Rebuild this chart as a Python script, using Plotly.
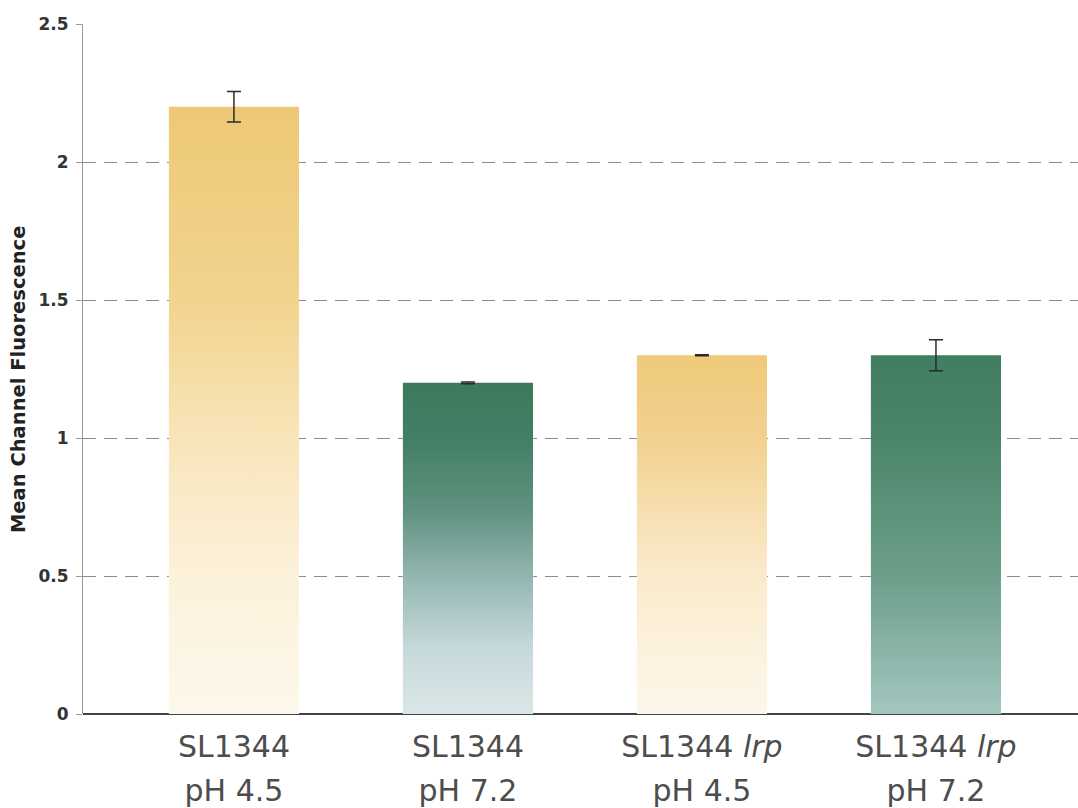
import plotly.graph_objects as go

# Mean channel fluorescence per strain / pH condition
strain_labels = ["SL1344", "SL1344", "SL1344 <i>lrp</i>", "SL1344 <i>lrp</i>"]
ph_labels = ["pH 4.5", "pH 7.2", "pH 4.5", "pH 7.2"]
mean_fluorescence = [2.2, 1.2, 1.3, 1.3]
error_values = [0.055, 0.003, 0.002, 0.056]
y_ticks = [0, 0.5, 1, 1.5, 2, 2.5]
y_tick_labels = ["0", "0.5", "1", "1.5", "2", "2.5"]

# vertical gradient per bar (bottom -> top)
gold_tall = [[0, "#fdf8ec"], [0.23, "#fcf1da"], [0.45, "#f8e5ba"], [0.68, "#f2d48e"], [1, "#eec876"]]
green_fade = [[0, "#dae6e8"], [0.2, "#c6d9da"], [0.42, "#92b5b0"], [0.62, "#5f917f"], [0.83, "#437f64"], [1, "#3d795d"]]
gold_short = [[0, "#fdf7ea"], [0.38, "#fbebcd"], [0.77, "#f2d190"], [1, "#efca78"]]
green_deep = [[0, "#a4c6c0"], [0.38, "#6d9f8b"], [0.77, "#4a8569"], [1, "#407d61"]]
bar_gradients = [gold_tall, green_fade, gold_short, green_deep]

bar_width = 0.556
positions = list(range(len(mean_fluorescence)))

fig = go.Figure()

# bar values (transparent carrier for hover)
fig.add_trace(go.Bar(
    x=positions,
    y=mean_fluorescence,
    width=bar_width,
    marker=dict(color="rgba(0,0,0,0)", line=dict(width=0)),
    showlegend=False,
))

# gradient-filled bar bodies
for pos, val, scale in zip(positions, mean_fluorescence, bar_gradients):
    x0, x1 = pos - bar_width / 2, pos + bar_width / 2
    fig.add_trace(go.Scatter(
        x=[x0, x1, x1, x0, x0],
        y=[0, 0, val, val, 0],
        mode="lines",
        line=dict(width=0),
        fill="toself",
        fillgradient=dict(type="vertical", colorscale=scale),
        hoverinfo="skip",
        showlegend=False,
    ))

# error bars on top of the bar bodies
fig.add_trace(go.Scatter(
    x=positions,
    y=mean_fluorescence,
    mode="markers",
    marker=dict(size=1, color="rgba(0,0,0,0)"),
    error_y=dict(type="data", array=error_values, visible=True,
                 color="#2b2b2b", thickness=1.5, width=7),
    hoverinfo="skip",
    showlegend=False,
))

# second-row labels on an overlaid axis
fig.add_trace(go.Scatter(x=positions, y=mean_fluorescence, xaxis="x2",
                         mode="markers", marker=dict(size=1, color="rgba(0,0,0,0)"),
                         hoverinfo="skip", showlegend=False))

x_range = [-0.645, 3.607]
label_font = dict(family="DejaVu Sans", size=30, color="#4d4d4d")

fig.update_layout(
    width=1078,
    height=808,
    margin=dict(l=83, r=0, t=24, b=94, autoexpand=False),
    paper_bgcolor="white",
    plot_bgcolor="white",
    xaxis=dict(
        range=x_range,
        automargin=False,
        tickmode="array",
        tickvals=positions,
        ticktext=strain_labels,
        ticks="outside",
        ticklen=6,
        tickcolor="rgba(0,0,0,0)",
        tickfont=label_font,
        showgrid=False,
        zeroline=False,
        showline=False,
    ),
    xaxis2=dict(
        range=x_range,
        automargin=False,
        overlaying="x",
        side="bottom",
        anchor="y",
        tickmode="array",
        tickvals=positions,
        ticktext=ph_labels,
        ticks="outside",
        ticklen=50,
        tickcolor="rgba(0,0,0,0)",
        tickfont=label_font,
        showgrid=False,
        zeroline=False,
        showline=False,
    ),
    yaxis=dict(
        range=[0, 2.5],
        automargin=False,
        tickmode="array",
        tickvals=y_ticks,
        ticktext=y_tick_labels,
        ticks="outside",
        ticklen=6,
        tickcolor="#999999",
        ticklabelstandoff=4,
        tickfont=dict(family="DejaVu Sans", size=17, color="#333333", weight="bold"),
        showline=True,
        linecolor="#999999",
        linewidth=1,
        showgrid=True,
        gridcolor="#8c8c8c",
        gridwidth=1,
        griddash="13px,8px",
        zeroline=True,
        zerolinecolor="#444444",
        zerolinewidth=1.5,
    ),
    annotations=[dict(
        text="Mean Channel Fluorescence",
        xref="paper", yref="paper",
        x=-0.0653, y=0.484,
        xanchor="center", yanchor="middle",
        textangle=-90,
        showarrow=False,
        font=dict(family="DejaVu Sans", size=19.5, color="#222222", weight="bold"),
    )],
)

fig.write_html("out.html")
